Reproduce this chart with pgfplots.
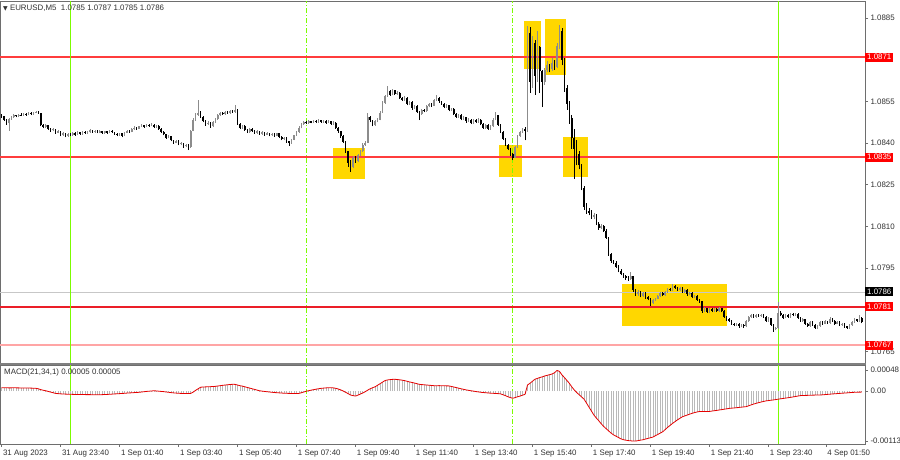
\documentclass[border=0pt]{standalone}
\usepackage{fontspec}
\setmainfont{Liberation Sans}
\newfontfamily\dejavu{DejaVu Sans}
\usepackage{pgfplots}
\usepackage{pgfplotstable}
\pgfplotsset{compat=1.18}
\definecolor{sepgreen}{RGB}{124,252,0}
\definecolor{boxgold}{RGB}{255,215,0}
\definecolor{lvlA}{RGB}{255,60,60}
\definecolor{lvlB}{RGB}{235,30,40}
\definecolor{pinkl}{RGB}{255,165,165}
\definecolor{framec}{RGB}{110,110,110}
\definecolor{bullc}{RGB}{140,140,140}
\definecolor{histc}{RGB}{185,185,185}
\definecolor{txtc}{RGB}{50,50,50}
% price in pips above 1.0800 (p -> 1.08 + p/10000), MACD in units of 0.00001
\pgfplotstableread{
i o h l c m
0 50.2 50.6 49.2 49.6 8
1 49.6 49.9 48.1 48.5 8
2 48.5 48.8 46.6 47.2 7.8
3 47.2 49.2 44.5 48.8 7.5
4 48.8 49.9 48.5 49.5 7.6
5 49.5 50.4 49.2 50.0 7.8
6 50.0 50.3 49.3 49.6 7.6
7 49.6 50.6 49.4 50.3 7.5
8 50.3 50.7 49.7 50.0 7.4
9 50.0 50.9 49.8 50.6 7.3
10 50.6 50.9 49.9 50.2 7.2
11 50.2 51.1 50.0 50.8 7.1
12 50.8 51.1 50.1 50.4 7.0
13 50.4 51.3 50.2 51.0 6.8
14 51.0 51.7 50.8 51.3 6.5
15 51.3 51.6 50.5 50.8 5.5
16 50.8 51.0 46.0 46.5 3.5
17 46.5 47.0 45.3 45.8 2.2
18 45.8 46.8 45.5 46.4 1.0
19 46.4 46.6 44.8 45.2 -0.5
20 45.2 45.5 44.0 44.6 -2
21 44.6 45.4 44.3 45.0 -3.5
22 45.0 45.2 43.3 43.8 -5
23 43.8 44.6 43.5 44.2 -5.5
24 44.2 44.4 42.4 42.9 -6
25 42.9 43.9 42.6 43.5 -6.3
26 43.5 43.7 42.1 42.6 -6.6
27 42.6 43.8 42.3 43.4 -6.8
28 43.4 43.7 42.4 42.8 -7
29 42.8 43.9 42.5 43.6 -7.2
30 43.6 43.9 42.7 43.0 -7.3
31 43.0 44.3 42.8 43.9 -7.4
32 43.9 44.1 43.0 43.3 -7.5
33 43.3 44.5 43.1 44.1 -7.6
34 44.1 44.4 43.2 43.5 -7.7
35 43.5 44.2 43.2 43.9 -7.8
36 43.9 45.0 43.7 44.6 -7.8
37 44.6 44.9 43.7 44.0 -7.9
38 44.0 44.8 43.8 44.4 -8
39 44.4 44.6 43.5 43.8 -8
40 43.8 44.7 43.5 44.3 -8
41 44.3 44.5 43.3 43.6 -7.8
42 43.6 44.5 43.4 44.2 -7.5
43 44.2 44.4 43.4 43.7 -7.3
44 43.7 44.8 43.5 44.4 -7
45 44.4 44.6 43.6 43.9 -6.6
46 43.9 44.1 43.0 43.3 -6.2
47 43.3 43.5 42.4 42.8 -5.9
48 42.8 43.8 42.6 43.5 -5.5
49 43.5 43.7 42.1 42.6 -5.2
50 42.6 44.1 42.4 43.8 -4.8
51 43.8 44.8 43.6 44.5 -4.3
52 44.5 44.8 43.8 44.1 -4
53 44.1 45.3 43.9 45.0 -3.6
54 45.0 46.0 44.8 45.6 -3.2
55 45.6 45.9 44.9 45.2 -2.8
56 45.2 46.3 45.0 46.0 -2.5
57 46.0 46.8 45.7 46.4 -1.8
58 46.4 46.6 45.6 45.9 -1.2
59 45.9 47.0 45.7 46.6 -0.5
60 46.6 46.9 45.9 46.2 0
61 46.2 47.1 46.0 46.7 0.5
62 46.7 46.9 45.5 45.8 1
63 45.8 46.6 45.5 46.3 0.6
64 46.3 46.5 44.8 45.1 0
65 45.1 45.3 43.6 44.0 -0.5
66 44.0 44.3 42.8 43.2 -1
67 43.2 43.4 41.6 42.0 -1.8
68 42.0 42.9 41.7 42.5 -2.5
69 42.5 42.7 40.6 41.0 -3.2
70 41.0 41.3 39.8 40.2 -3.8
71 40.2 41.2 39.9 40.8 -4.3
72 40.8 41.0 39.2 39.6 -4.7
73 39.6 40.3 39.3 39.9 -5
74 39.9 40.1 38.4 38.8 -5.2
75 38.8 39.7 38.5 39.4 -5.3
76 39.4 39.6 37.5 38.6 -5.2
77 38.6 44.9 38.4 44.5 -5
78 44.5 49.0 44.2 48.5 -2
79 48.5 50.8 48.0 50.2 2
80 50.2 55.5 49.8 51.0 5.5
81 51.0 51.5 49.0 49.5 9
82 49.5 49.8 47.5 48.0 9.5
83 48.0 48.3 46.2 46.8 9.8
84 46.8 47.9 46.5 47.4 10
85 47.4 47.6 45.5 46.0 10.3
86 46.0 47.8 45.8 47.5 10.6
87 47.5 49.0 47.2 48.6 11
88 48.6 50.4 48.4 50.0 11.8
89 50.0 51.3 49.7 50.9 12.5
90 50.9 51.2 50.1 50.5 13.3
91 50.5 51.7 50.3 51.3 14
92 51.3 51.6 50.5 50.8 14.6
93 50.8 52.0 50.6 51.6 15.2
94 51.6 51.9 50.9 51.2 15.6
95 51.2 53.7 51.0 52.0 15.5
96 52.0 52.3 46.6 47.0 14
97 47.0 47.3 45.0 45.4 12.5
98 45.4 46.6 45.1 46.2 11.5
99 46.2 46.4 44.4 44.8 10
100 44.8 45.1 43.6 44.0 8.5
101 44.0 45.4 43.8 45.1 7
102 45.1 45.3 44.1 44.5 5.5
103 44.5 44.8 43.3 43.7 4
104 43.7 44.6 43.4 44.2 2.5
105 44.2 44.4 43.0 43.4 1
106 43.4 44.3 43.1 43.9 0.2
107 43.9 44.1 42.7 43.0 -0.5
108 43.0 44.0 42.8 43.6 -1.2
109 43.6 43.8 42.4 42.8 -1.8
110 42.8 43.7 42.5 43.3 -2.4
111 43.3 43.5 42.2 42.6 -3
112 42.6 43.8 42.4 43.5 -3.4
113 43.5 43.7 41.8 42.2 -3.8
114 42.2 42.4 41.0 41.4 -4.2
115 41.4 42.3 41.1 41.9 -4.6
116 41.9 42.1 40.2 40.6 -4.8
117 40.6 40.9 39.0 40.0 -5
118 40.0 41.5 39.7 41.2 -5.2
119 41.2 43.1 41.0 42.8 -5.2
120 42.8 44.4 42.5 44.0 -5.1
121 44.0 46.0 43.8 45.6 -5
122 45.6 47.2 45.3 46.8 -3.5
123 46.8 48.0 46.5 47.6 -1.8
124 47.6 47.9 46.9 47.2 0
125 47.2 48.3 47.0 47.9 1.2
126 47.9 48.1 47.1 47.4 2.4
127 47.4 48.4 47.2 48.0 3.5
128 48.0 48.3 47.2 47.5 4.6
129 47.5 48.6 47.3 48.2 5.6
130 48.2 48.4 47.3 47.6 6.5
131 47.6 48.5 47.4 48.1 7
132 48.1 48.3 47.0 47.3 7.5
133 47.3 48.2 47.1 47.8 7.8
134 47.8 48.0 46.6 46.9 8
135 46.9 47.8 46.7 47.4 7.5
136 47.4 47.6 45.1 45.5 6.5
137 45.5 45.8 43.8 44.2 5
138 44.2 44.5 42.0 42.5 3
139 42.5 42.8 40.0 40.5 0.5
140 40.5 40.8 36.5 37.0 -2.5
141 37.0 37.3 31.5 33.0 -5.5
142 33.0 34.0 29.6 31.5 -8.6
143 31.5 35.2 31.0 34.8 -10
144 34.8 35.3 33.0 33.5 -11
145 33.5 36.2 33.2 35.8 -9
146 35.8 37.5 35.5 37.0 -6.5
147 37.0 39.9 36.7 39.5 -4
148 39.5 40.8 39.0 40.2 -1
149 40.2 50.8 40.0 49.5 2.5
150 49.5 49.8 47.6 48.2 5.5
151 48.2 48.5 46.0 46.5 8
152 46.5 48.2 46.2 47.8 10
153 47.8 49.0 47.5 48.5 13.5
154 48.5 51.5 48.2 51.0 17
155 51.0 55.0 50.8 54.5 20.5
156 54.5 57.5 54.2 57.0 24
157 57.0 60.6 56.7 58.8 25.5
158 58.8 59.2 57.0 57.5 26.2
159 57.5 59.5 57.2 59.0 26.8
160 59.0 59.3 57.4 57.8 27
161 57.8 58.7 57.5 58.2 26.5
162 58.2 58.4 55.8 56.2 25.8
163 56.2 56.6 55.1 55.5 25
164 55.5 56.8 55.2 56.4 24
165 56.4 56.6 53.6 54.0 22.5
166 54.0 55.2 53.7 54.8 21
167 54.8 55.0 52.1 52.5 19.8
168 52.5 53.8 52.2 53.4 18.5
169 53.4 53.6 50.8 51.2 17
170 51.2 51.5 48.3 50.5 15.6
171 50.5 52.4 50.2 52.0 15
172 52.0 52.3 51.1 51.5 14.5
173 51.5 53.6 51.3 53.2 14
174 53.2 54.4 52.9 54.0 13.5
175 54.0 54.3 53.1 53.5 13
176 53.5 55.9 53.3 55.5 12.5
177 55.5 57.3 55.2 56.2 12.5
178 56.2 56.5 54.6 55.0 12.6
179 55.0 55.3 53.8 54.2 12.5
180 54.2 54.5 52.6 53.0 12.3
181 53.0 54.0 52.8 53.6 12.1
182 53.6 53.8 51.4 51.8 12
183 51.8 52.8 51.5 52.4 10.8
184 52.4 52.6 50.1 50.5 9.5
185 50.5 50.8 49.0 49.4 8.2
186 49.4 50.6 49.1 50.2 6.8
187 50.2 50.4 48.2 48.6 5.5
188 48.6 49.7 48.3 49.3 4.2
189 49.3 49.5 47.4 47.8 3
190 47.8 48.9 47.5 48.5 2
191 48.5 48.7 46.8 47.2 1
192 47.2 48.8 47.0 48.4 0.2
193 48.4 48.7 47.2 47.6 -0.8
194 47.6 48.9 47.3 48.5 -1.6
195 48.5 48.7 46.4 46.8 -2.5
196 46.8 47.1 45.1 45.5 -3
197 45.5 47.0 45.2 46.6 -3.5
198 46.6 46.8 44.8 45.2 -4
199 45.2 46.4 44.9 46.0 -4.5
200 46.0 48.9 45.8 48.5 -4.8
201 48.5 51.2 48.2 50.0 -5.2
202 50.0 50.3 46.1 46.5 -5.5
203 46.5 46.8 43.6 44.0 -6
204 44.0 44.3 41.1 41.5 -8
205 41.5 41.8 39.0 39.5 -10
206 39.5 39.8 37.5 38.0 -12.5
207 38.0 38.3 35.5 36.0 -14.5
208 36.0 36.5 33.9 34.8 -16
209 34.8 38.9 34.5 38.5 -14.5
210 38.5 42.9 38.2 42.5 -12.5
211 42.5 44.5 42.2 44.0 -11
212 44.0 45.6 43.7 45.2 -9
213 45.2 45.8 41.0 44.4 -7
214 44.4 82.0 44.0 79.5 14
215 79.5 81.8 58.0 62.0 18
216 62.0 78.5 60.0 76.0 22.5
217 76.0 77.0 57.5 64.0 27
218 64.0 80.5 62.0 74.5 29
219 74.5 75.0 58.0 66.0 31
220 66.0 66.5 53.0 62.0 32.5
221 62.0 67.0 61.0 66.5 34.5
222 66.5 69.5 65.5 68.0 36
223 68.0 68.5 65.5 66.8 37.5
224 66.8 70.5 66.0 69.0 39
225 69.0 70.0 66.5 67.5 42
226 67.5 76.0 67.0 75.0 47
227 75.0 82.5 74.0 80.5 45
228 80.5 81.5 68.0 70.0 37
229 70.0 70.5 58.5 60.0 31
230 60.0 61.0 52.0 54.0 24.5
231 54.0 55.0 47.0 49.0 18
232 49.0 50.0 38.0 42.0 10
233 42.0 45.0 27.0 38.0 3
234 38.0 41.0 32.0 36.0 -3
235 36.0 37.0 30.5 32.0 -8
236 32.0 32.5 23.0 24.0 -13
237 24.0 24.5 16.0 17.0 -18
238 17.0 18.5 14.5 15.5 -27
239 15.5 16.5 14.0 15.0 -36
240 15.0 16.0 12.8 13.5 -45
241 13.5 15.0 12.5 14.0 -54
242 14.0 14.5 10.5 11.0 -61
243 11.0 11.5 8.8 9.5 -67
244 9.5 10.8 9.0 10.0 -74
245 10.0 10.5 8.0 8.5 -80
246 8.5 9.0 5.5 6.0 -85
247 6.0 6.3 -0.5 0.0 -90
248 0.0 0.5 -3.0 -2.5 -95
249 -2.5 -2.0 -3.5 -3.0 -99
250 -3.0 -2.5 -5.0 -4.5 -102
251 -4.5 -4.0 -6.5 -6.0 -105
252 -6.0 -5.5 -7.6 -7.0 -108
253 -7.0 -6.6 -8.4 -8.0 -110
254 -8.0 -7.5 -9.2 -8.5 -111
255 -8.5 -8.0 -9.5 -9.0 -112
256 -9.0 -6.5 -9.3 -8.0 -112.5
257 -8.0 -7.7 -13.5 -13.0 -113
258 -13.0 -12.6 -15.0 -14.5 -113
259 -14.5 -13.0 -14.9 -13.5 -112
260 -13.5 -13.2 -15.5 -15.0 -111
261 -15.0 -13.6 -15.3 -14.0 -110
262 -14.0 -13.7 -16.0 -15.5 -108.5
263 -15.5 -15.2 -16.6 -16.0 -107
264 -16.0 -15.7 -18.5 -17.5 -105.5
265 -17.5 -16.1 -17.9 -16.5 -104
266 -16.5 -15.6 -16.9 -16.0 -101
267 -16.0 -14.6 -16.3 -15.0 -98
268 -15.0 -13.6 -15.3 -14.0 -95
269 -14.0 -13.7 -15.2 -14.8 -92
270 -14.8 -13.1 -15.0 -13.5 -87
271 -13.5 -12.1 -13.8 -12.5 -82
272 -12.5 -12.2 -13.4 -13.0 -77.5
273 -13.0 -10.8 -13.2 -11.5 -73
274 -11.5 -11.1 -12.4 -12.0 -69
275 -12.0 -11.7 -13.2 -12.8 -65
276 -12.8 -11.8 -13.1 -12.2 -61.5
277 -12.2 -11.9 -13.9 -13.5 -58
278 -13.5 -12.6 -13.8 -13.0 -56
279 -13.0 -12.7 -14.9 -14.5 -54
280 -14.5 -13.6 -14.8 -14.0 -52
281 -14.0 -13.7 -15.9 -15.5 -50
282 -15.5 -14.6 -15.8 -15.0 -48.5
283 -15.0 -14.7 -16.9 -16.5 -47
284 -16.5 -16.1 -17.4 -17.0 -46
285 -17.0 -16.7 -21.0 -20.5 -46
286 -20.5 -19.1 -20.9 -19.5 -46
287 -19.5 -19.2 -21.2 -20.8 -46
288 -20.8 -19.4 -21.1 -19.8 -46
289 -19.8 -19.5 -20.9 -20.5 -45
290 -20.5 -19.2 -20.8 -19.6 -44.3
291 -19.6 -19.3 -20.8 -20.4 -43.5
292 -20.4 -19.1 -20.7 -19.5 -42.6
293 -19.5 -19.2 -20.9 -20.5 -41.8
294 -20.5 -20.2 -22.9 -22.5 -40.8
295 -22.5 -22.2 -23.9 -23.5 -40
296 -23.5 -23.1 -24.4 -24.0 -39
297 -24.0 -23.7 -25.4 -25.0 -38.5
298 -25.0 -24.7 -25.9 -25.5 -38
299 -25.5 -24.6 -25.8 -25.0 -37.5
300 -25.0 -24.7 -26.4 -26.0 -36.8
301 -26.0 -25.1 -26.3 -25.5 -36.2
302 -25.5 -25.2 -26.6 -26.0 -35.6
303 -26.0 -23.6 -26.3 -24.0 -35
304 -24.0 -22.1 -24.3 -22.5 -33
305 -22.5 -21.6 -22.8 -22.0 -31
306 -22.0 -21.7 -22.9 -22.5 -29.2
307 -22.5 -21.4 -22.8 -21.8 -27.5
308 -21.8 -21.5 -22.6 -22.2 -26
309 -22.2 -21.5 -22.5 -21.9 -24.6
310 -21.9 -21.6 -22.9 -22.5 -23.3
311 -22.5 -22.2 -24.4 -24.0 -22
312 -24.0 -22.6 -24.3 -23.0 -21.3
313 -23.0 -22.8 -25.9 -25.5 -20.5
314 -25.5 -25.2 -28.0 -27.0 -19.8
315 -27.0 -26.1 -27.4 -26.5 -19
316 -26.5 -17.2 -26.8 -21.0 -18
317 -21.0 -20.6 -22.4 -22.0 -17.2
318 -22.0 -21.7 -23.2 -22.8 -16.4
319 -22.8 -21.6 -23.1 -22.0 -15.6
320 -22.0 -21.7 -22.9 -22.5 -14.8
321 -22.5 -21.1 -22.8 -21.5 -14
322 -21.5 -21.2 -22.4 -22.0 -13
323 -22.0 -21.2 -22.3 -21.6 -12
324 -21.6 -21.3 -23.4 -23.0 -11
325 -23.0 -22.7 -24.4 -24.0 -10
326 -24.0 -23.1 -24.3 -23.5 -9.8
327 -23.5 -23.2 -25.4 -25.0 -9.6
328 -25.0 -24.7 -26.2 -25.8 -9.4
329 -25.8 -24.1 -26.1 -24.5 -9.2
330 -24.5 -24.2 -25.9 -25.5 -9
331 -25.5 -25.2 -26.9 -26.5 -8.8
332 -26.5 -25.4 -26.8 -25.8 -8.7
333 -25.8 -24.1 -26.1 -24.5 -8.6
334 -24.5 -24.2 -25.4 -25.0 -8.2
335 -25.0 -23.8 -25.3 -24.2 -7.7
336 -24.2 -23.9 -25.2 -24.8 -7.2
337 -24.8 -22.5 -25.1 -23.2 -6.8
338 -23.2 -22.9 -24.4 -24.0 -6.3
339 -24.0 -23.7 -25.4 -25.0 -5.8
340 -25.0 -24.1 -25.3 -24.5 -5.4
341 -24.5 -24.2 -25.9 -25.5 -5
342 -25.5 -24.6 -25.8 -25.0 -4.6
343 -25.0 -24.7 -26.4 -26.0 -4.2
344 -26.0 -25.7 -26.9 -26.5 -3.8
345 -26.5 -25.1 -26.8 -25.5 -3.3
346 -25.5 -24.1 -25.8 -24.5 -2.9
347 -24.5 -23.1 -24.8 -23.5 -2.5
348 -23.5 -23.2 -24.4 -24.0 -2.3
349 -24.0 -22.0 -24.3 -23.0 -2.1
350 -23.0 -22.7 -24.9 -24.5 -2
}\bars

\newcommand{\lbl}{\fontsize{7.9}{9}\selectfont}

\begin{document}
\begin{tikzpicture}[x=1pt,y=1pt]
\fill[white] (0,0) rectangle (900,460);
\path[use as bounding box] (0,0) rectangle (900,460);

% ---------------- price panel ----------------
\begin{axis}[
  at={(0pt,97pt)}, anchor=south west,
  scale only axis, width=865pt, height=362pt,
  xmin=-0.61, xmax=351.3, ymin=-39.16, ymax=91.16,
  clip=false,
  axis line style={framec, line width=0.8pt},
  xtick=\empty,
  ytick={85,55,40,25,10,-5,-35},
  yticklabels={1.0885,1.0855,1.0840,1.0825,1.0810,1.0795,1.0765},
  ytick pos=right, yticklabel pos=right,
  tick align=outside, major tick length=3pt,
  tick style={framec, line width=0.6pt},
  /pgf/number format/assume math mode=true,
  yticklabel style={font=\lbl, text=txtc, anchor=west, xshift=-1pt},
  after end axis/.code={
    \node[fill=red, text=white, font=\lbl, anchor=west, inner xsep=2pt, inner ysep=1pt, minimum height=9pt] at (axis cs:351.3,71) {1.0871};
    \node[fill=red, text=white, font=\lbl, anchor=west, inner xsep=2pt, inner ysep=1pt, minimum height=9pt] at (axis cs:351.3,35) {1.0835};
    \node[fill=black, text=white, font=\lbl, anchor=west, inner xsep=2pt, inner ysep=1pt, minimum height=9pt] at (axis cs:351.3,-13.6) {1.0786};
    \node[fill=red, text=white, font=\lbl, anchor=west, inner xsep=2pt, inner ysep=1pt, minimum height=9pt] at (axis cs:351.3,-19) {1.0781};
    \node[fill=red, text=white, font=\lbl, anchor=west, inner xsep=2pt, inner ysep=1pt, minimum height=9pt] at (axis cs:351.3,-32.7) {1.0767};
    \node[anchor=west, font=\lbl, text=txtc, inner sep=0pt] at (rel axis cs:0,1) [xshift=3pt, yshift=-7pt] {{\dejavu\fontsize{6}{7}\selectfont ▼}\ EURUSD,M5\ \ 1.0785 1.0787 1.0785 1.0786};
  }
]
% highlight boxes
\addplot[fill=boxgold, draw=none] coordinates {(134.9,38.2) (147.9,38.2) (147.9,27.1) (134.9,27.1)} -- cycle;
\addplot[fill=boxgold, draw=none] coordinates {(202.4,39.3) (211.8,39.3) (211.8,27.8) (202.4,27.8)} -- cycle;
\addplot[fill=boxgold, draw=none] coordinates {(212.6,84.0) (219.5,84.0) (219.5,66.7) (212.6,66.7)} -- cycle;
\addplot[fill=boxgold, draw=none] coordinates {(221.1,84.7) (229.7,84.7) (229.7,64.5) (221.1,64.5)} -- cycle;
\addplot[fill=boxgold, draw=none] coordinates {(228.4,42.2) (238.6,42.2) (238.6,27.8) (228.4,27.8)} -- cycle;
\addplot[fill=boxgold, draw=none] coordinates {(252.5,-10.7) (295.2,-10.7) (295.2,-25.8) (252.5,-25.8)} -- cycle;
% horizontal levels
\addplot[lvlA, line width=1.1pt] coordinates {(-0.61,71) (351.3,71)};
\addplot[lvlA, line width=1.6pt] coordinates {(-0.61,35) (351.3,35)};
\addplot[black!22, line width=0.8pt] coordinates {(-0.61,-13.6) (351.3,-13.6)};
\addplot[lvlB, line width=1.2pt] coordinates {(-0.61,-19) (351.3,-19)};
\addplot[pinkl, line width=1.2pt] coordinates {(-0.61,-32.7) (351.3,-32.7)};
% vertical separators
\addplot[sepgreen, line width=1.2pt] coordinates {(28,-39.16) (28,91.16)};
\addplot[sepgreen, line width=1.2pt] coordinates {(316,-39.16) (316,91.16)};
\addplot[sepgreen, line width=0.8pt, dash pattern=on 5pt off 2pt on 1pt off 2pt] coordinates {(124,-39.16) (124,91.16)};
\addplot[sepgreen, line width=0.8pt, dash pattern=on 5pt off 2pt on 1pt off 2pt] coordinates {(207.7,-39.16) (207.7,91.16)};
% candles: wicks
\addplot[bullc, line width=0.7pt, quiver={u=0, v=\thisrow{h}-\thisrow{l}},
  restrict expr to domain={\thisrow{c}-\thisrow{o}}{0:1000}] table[x=i, y=l] {\bars};
\addplot[black, line width=0.7pt, quiver={u=0, v=\thisrow{h}-\thisrow{l}},
  restrict expr to domain={\thisrow{c}-\thisrow{o}}{-1000:-0.001}] table[x=i, y=l] {\bars};
% candles: bodies
\addplot[bullc, line width=1.6pt, quiver={u=0, v=\thisrow{c}-\thisrow{o}},
  restrict expr to domain={\thisrow{c}-\thisrow{o}}{0:1000}] table[x=i, y=o] {\bars};
\addplot[black, line width=1.6pt, quiver={u=0, v=\thisrow{c}-\thisrow{o}},
  restrict expr to domain={\thisrow{c}-\thisrow{o}}{-1000:-0.001}] table[x=i, y=o] {\bars};
\end{axis}

% ---------------- MACD panel ----------------
\begin{axis}[
  at={(0pt,16pt)}, anchor=south west,
  scale only axis, width=865pt, height=79pt,
  xmin=-0.61, xmax=351.3, ymin=-119.7, ymax=59.4,
  clip=false,
  axis line style={framec, line width=0.8pt},
  ytick={48,0,-113},
  yticklabels={0.00048,0.00,-0.00113},
  ytick pos=right, yticklabel pos=right,
  xtick={0,24,48,72,96,120,144,168,192,216,240,264,288,312,335.4},
  xticklabels={31 Aug 2023,31 Aug 23:40,1 Sep 01:40,1 Sep 03:40,1 Sep 05:40,1 Sep 07:40,1 Sep 09:40,1 Sep 11:40,1 Sep 13:40,1 Sep 15:40,1 Sep 17:40,1 Sep 19:40,1 Sep 21:40,1 Sep 23:40,4 Sep 01:50},
  xtick pos=bottom,
  tick align=outside, major tick length=3pt,
  tick style={framec, line width=0.6pt},
  /pgf/number format/assume math mode=true,
  yticklabel style={font=\lbl, text=txtc, anchor=west, xshift=-1pt},
  xticklabel style={font=\lbl, text=txtc, anchor=north west, xshift=-2pt, yshift=1pt},
]
\addplot[sepgreen, line width=1.2pt] coordinates {(28,-119.7) (28,59.4)};
\addplot[sepgreen, line width=1.2pt] coordinates {(316,-119.7) (316,59.4)};
\addplot[sepgreen, line width=0.8pt, dash pattern=on 5pt off 2pt on 1pt off 2pt] coordinates {(124,-119.7) (124,59.4)};
\addplot[sepgreen, line width=0.8pt, dash pattern=on 5pt off 2pt on 1pt off 2pt] coordinates {(207.7,-119.7) (207.7,59.4)};
\addplot[histc, line width=0.7pt, quiver={u=0, v=\thisrow{m}}] table[x=i, y expr=0] {\bars};
\addplot[red!90!black, line width=0.8pt] table[x=i, y=m] {\bars};
\node[anchor=north west, font=\lbl, text=txtc, inner sep=0pt] at (rel axis cs:0,1) [xshift=4pt, yshift=-4pt] {MACD(21,34,1) 0.00005 0.00005};
\end{axis}

% panel separator band
\fill[black!50] (0,94.6) rectangle (866,97.4);
\end{tikzpicture}
\end{document}
